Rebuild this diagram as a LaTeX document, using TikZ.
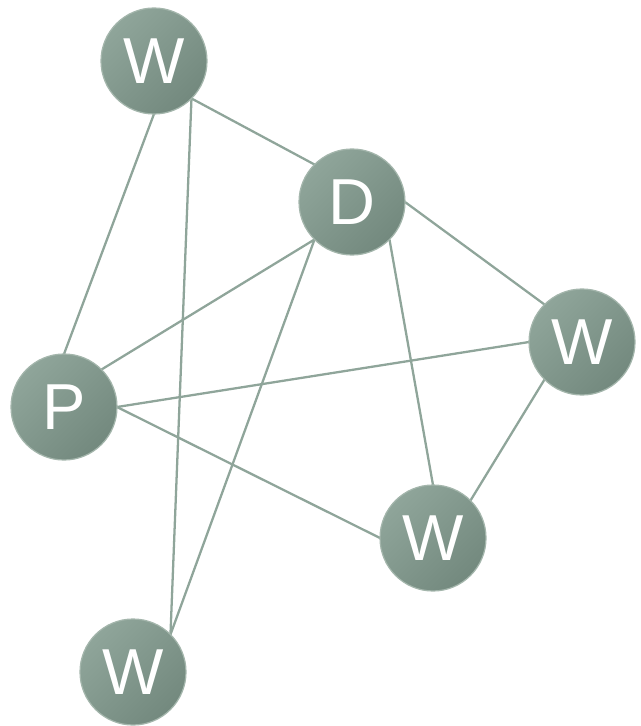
\documentclass[tikz,border=0pt]{standalone}
\usepackage{fontspec}
\setmainfont{Liberation Sans}
\usetikzlibrary{backgrounds}
\definecolor{nodelight}{HTML}{8FA59A}
\definecolor{nodedark}{HTML}{73897E}
\definecolor{nodeedge}{HTML}{A4B6AC}
\definecolor{linkcol}{HTML}{8FA59A}
\begin{document}
\begin{tikzpicture}[x=0.02cm, y=-0.02cm, line cap=round,
    role/.style={circle, minimum size=2.12cm, inner sep=0pt, outer sep=0pt,
      draw=nodeedge, line width=0.7pt,
      top color=nodelight, bottom color=nodedark, shading angle=45,
      text=white, font=\fontsize{37}{42}\selectfont},
    link/.style={draw=linkcol, line width=1.3pt}]
  \useasboundingbox (0,0) rectangle (640,726);
  \node[role] (wt) at (154,61) {W};
  \node[role] (d) at (352,202) {D};
  \node[role] (wr) at (582,342) {W};
  \node[role] (p) at (64,407) {P};
  \node[role] (wm) at (433,538) {W};
  \node[role] (wb) at (133,672) {W};
  % links behind the circles
  \begin{scope}[on background layer]
    \draw[link] (wt.south) -- (p.north);
    \draw[link] (wt.south east) -- (d.north west);
    \draw[link] (wt.south east) -- (wb.north east);
    \draw[link] (d.south west) -- (p.north east);
    \draw[link] (d.south west) -- (wb.north east);
    \draw[link] (d.east) -- (wr.north west);
    \draw[link] (d.south east) -- (wm.north);
    \draw[link] (p.east) -- (wr.west);
    \draw[link] (p.east) -- (wm.west);
    \draw[link] (wr.south west) -- (wm.north east);
  \end{scope}
\end{tikzpicture}
\end{document}
